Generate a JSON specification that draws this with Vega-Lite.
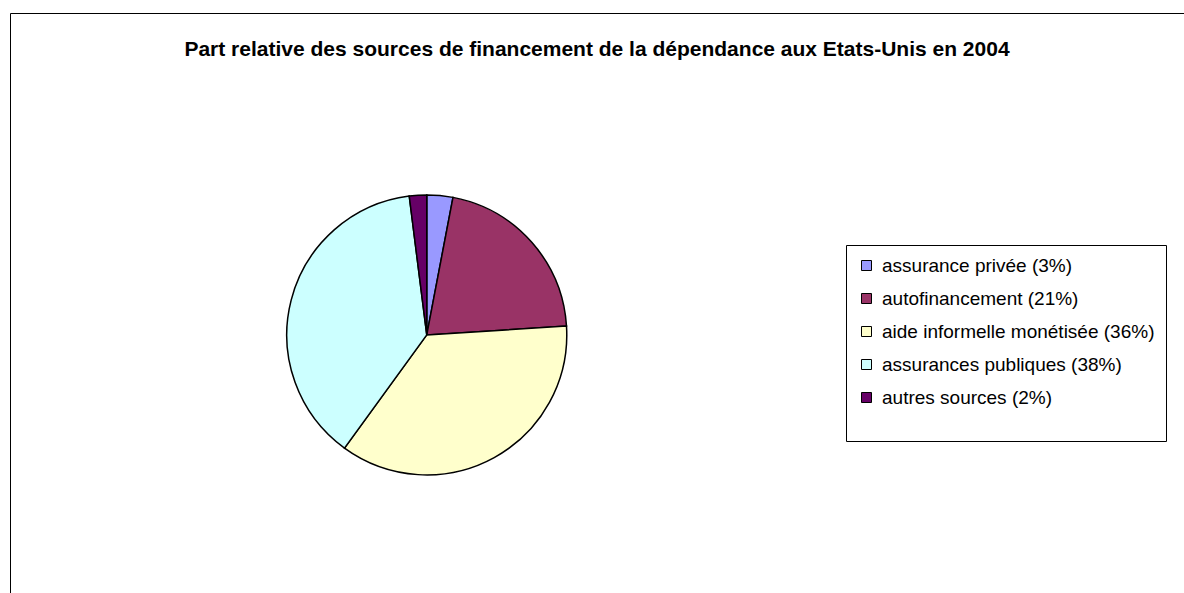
{
  "$schema": "https://vega.github.io/schema/vega-lite/v6.json",
  "width": 1174,
  "height": 580,
  "padding": {"left": 10, "top": 13, "right": 0, "bottom": 0},
  "autosize": {"type": "none"},
  "background": "white",
  "title": {
    "text": "Part relative des sources de financement de la dépendance aux Etats-Unis en 2004",
    "frame": "group",
    "anchor": "middle",
    "offset": -47,
    "font": "Liberation Sans",
    "fontSize": 21,
    "fontWeight": "bold",
    "color": "black"
  },
  "config": {
    "view": {"stroke": "black", "strokeWidth": 1}
  },
  "data": {
    "values": [
      {"source": "assurance privée (3%)", "part": 3, "ordre": 1},
      {"source": "autofinancement (21%)", "part": 21, "ordre": 2},
      {"source": "aide informelle monétisée (36%)", "part": 36, "ordre": 3},
      {"source": "assurances publiques (38%)", "part": 38, "ordre": 4},
      {"source": "autres sources (2%)", "part": 2, "ordre": 5}
    ]
  },
  "mark": {"type": "arc", "outerRadius": 140, "stroke": "black", "strokeWidth": 1.5},
  "encoding": {
    "x": {"value": {"expr": "width*0.355"}},
    "y": {"value": {"expr": "height*0.555"}},
    "theta": {"field": "part", "type": "quantitative", "stack": true},
    "order": {"field": "ordre", "type": "quantitative"},
    "color": {
      "field": "source",
      "type": "nominal",
      "sort": {"field": "ordre"},
      "scale": {
        "domain": ["assurance privée (3%)", "autofinancement (21%)", "aide informelle monétisée (36%)", "assurances publiques (38%)", "autres sources (2%)"],
        "range": ["#9999FF", "#993366", "#FFFFCC", "#CCFFFF", "#660066"]
      },
      "legend": {
        "title": " ",
        "titleOrient": "bottom",
        "titleFontSize": 12,
        "titlePadding": 11,
        "orient": "none",
        "legendX": 836,
        "legendY": 232,
        "symbolType": "square",
        "symbolSize": 100,
        "symbolStrokeColor": "black",
        "symbolStrokeWidth": 1,
        "symbolOffset": 0,
        "labelOffset": 6,
        "labelFont": "Liberation Sans",
        "labelFontSize": 19,
        "labelColor": "black",
        "rowPadding": 13,
        "strokeColor": "black",
        "padding": 11,
        "labelLimit": 400
      }
    }
  }
}
